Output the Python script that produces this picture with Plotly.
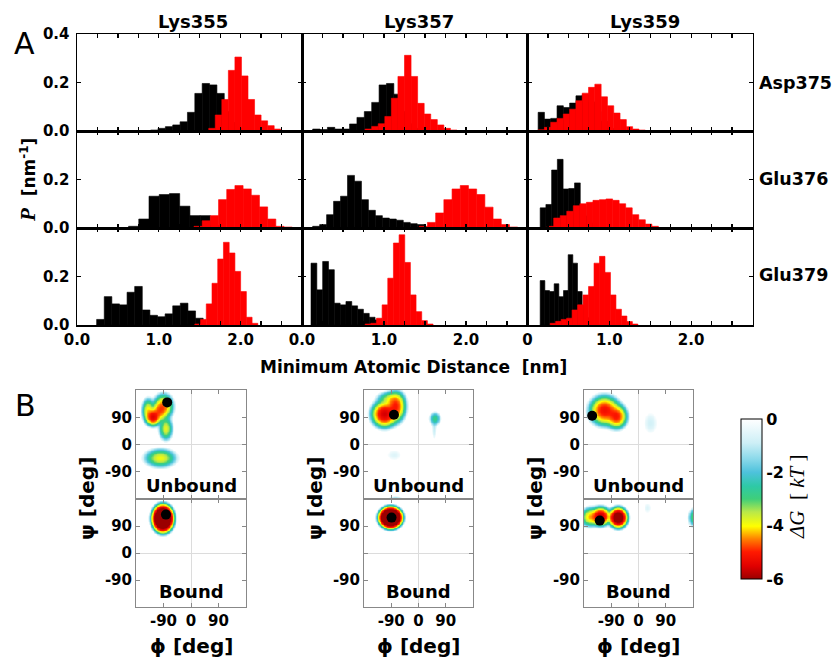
import numpy as np
import plotly.graph_objects as go

# ===================== Panel A : distance histograms =====================
# (left edge of first bin [nm], bin width [nm]) and bar heights P [nm^-1]
# black = unbound, red = bound
BIN_355_375_K = (0.90, 0.09)
P_355_375_K = [0.004, 0.011, 0.018, 0.025, 0.038, 0.077, 0.155, 0.196, 0.19, 0.155, 0.08, 0.035, 0.012, 0.004]
BIN_355_375_R = (1.61, 0.08)
P_355_375_R = [0.011, 0.066, 0.13, 0.25, 0.305, 0.227, 0.13, 0.066, 0.042, 0.022, 0.008]

BIN_357_375_K = (0.13, 0.09)
P_357_375_K = [0.008, 0.006, 0.015, 0.008, 0.008, 0.029, 0.056, 0.08, 0.118, 0.19, 0.196, 0.152, 0.08, 0.03, 0.01]
BIN_357_375_R = (0.77, 0.08)
P_357_375_R = [0.008, 0.019, 0.03, 0.06, 0.135, 0.225, 0.312, 0.225, 0.114, 0.07, 0.047, 0.025, 0.011, 0.004]

BIN_359_375_K = (0.13, 0.077)
P_359_375_K = [0.077, 0.049, 0.052, 0.104, 0.097, 0.115, 0.145, 0.15, 0.12, 0.08, 0.04, 0.01]
BIN_359_375_R = (0.13, 0.077)
P_359_375_R = [0.005, 0.015, 0.036, 0.052, 0.07, 0.09, 0.125, 0.156, 0.18, 0.193, 0.141, 0.104, 0.074, 0.047, 0.018, 0.008, 0.004]

BIN_355_376_K = (0.63, 0.125)
P_355_376_K = [0.007, 0.037, 0.131, 0.138, 0.142, 0.09, 0.051, 0.051, 0.01]
BIN_355_376_R = (1.43, 0.10)
P_355_376_R = [0.007, 0.03, 0.051, 0.117, 0.159, 0.175, 0.161, 0.135, 0.087, 0.037, 0.007, 0.004]

BIN_357_376_K = (0.13, 0.085)
P_357_376_K = [0.007, 0.014, 0.055, 0.11, 0.131, 0.217, 0.193, 0.117, 0.073, 0.051, 0.041, 0.037, 0.032, 0.023, 0.018, 0.014]
BIN_357_376_R = (1.43, 0.10)
P_357_376_R = [0.007, 0.023, 0.062, 0.117, 0.161, 0.175, 0.161, 0.138, 0.086, 0.037, 0.014, 0.004]

BIN_359_376_K = (0.155, 0.07)
P_359_376_K = [0.083, 0.097, 0.239, 0.283, 0.161, 0.163, 0.186, 0.09, 0.05, 0.02]
BIN_359_376_R = (0.24, 0.08)
P_359_376_R = [0.007, 0.041, 0.051, 0.069, 0.092, 0.1, 0.106, 0.114, 0.117, 0.12, 0.114, 0.1, 0.083, 0.055, 0.034, 0.016, 0.007]

BIN_355_379_K = (0.24, 0.093)
P_355_379_K = [0.023, 0.117, 0.087, 0.083, 0.135, 0.159, 0.062, 0.04, 0.034, 0.046, 0.079, 0.09, 0.058, 0.028]
BIN_355_379_R = (1.44, 0.07)
P_355_379_R = [0.004, 0.023, 0.087, 0.172, 0.272, 0.341, 0.297, 0.221, 0.138, 0.032, 0.007]

BIN_357_379_K = (0.11, 0.071)
P_357_379_K = [0.255, 0.145, 0.262, 0.228, 0.09, 0.083, 0.097, 0.079, 0.065, 0.048, 0.032, 0.021, 0.01]
BIN_357_379_R = (0.77, 0.069)
P_357_379_R = [0.004, 0.007, 0.028, 0.083, 0.193, 0.338, 0.372, 0.258, 0.124, 0.055, 0.018, 0.004]

BIN_359_379_K = (0.155, 0.057)
P_359_379_K = [0.183, 0.142, 0.138, 0.17, 0.117, 0.142, 0.29, 0.255, 0.138, 0.08, 0.03]
BIN_359_379_R = (0.277, 0.067)
P_359_379_R = [0.007, 0.015, 0.023, 0.028, 0.062, 0.083, 0.124, 0.159, 0.255, 0.283, 0.217, 0.124, 0.065, 0.037, 0.014, 0.004]

COL_TITLES = ["Lys355", "Lys357", "Lys359"]
ROW_TITLES = ["Asp375", "Glu376", "Glu379"]
X_TICKS_A = [0.0, 0.25, 0.5, 0.75, 1.0, 1.25, 1.5, 1.75, 2.0, 2.25, 2.5, 2.75]
X_LABELS_A = {0.0: "0.0", 1.0: "1.0", 2.0: "2.0"}
Y_TICKS_A = [0.0, 0.2, 0.4]
Y_LABELS_A = ["0.0", "0.2", "0.4"]

HIST = {
    (0, 0): (BIN_355_375_K, P_355_375_K, BIN_355_375_R, P_355_375_R),
    (0, 1): (BIN_357_375_K, P_357_375_K, BIN_357_375_R, P_357_375_R),
    (0, 2): (BIN_359_375_K, P_359_375_K, BIN_359_375_R, P_359_375_R),
    (1, 0): (BIN_355_376_K, P_355_376_K, BIN_355_376_R, P_355_376_R),
    (1, 1): (BIN_357_376_K, P_357_376_K, BIN_357_376_R, P_357_376_R),
    (1, 2): (BIN_359_376_K, P_359_376_K, BIN_359_376_R, P_359_376_R),
    (2, 0): (BIN_355_379_K, P_355_379_K, BIN_355_379_R, P_355_379_R),
    (2, 1): (BIN_357_379_K, P_357_379_K, BIN_357_379_R, P_357_379_R),
    (2, 2): (BIN_359_379_K, P_359_379_K, BIN_359_379_R, P_359_379_R),
}

# ===================== Panel B : Ramachandran free energy =====================
# basins: (phi centre, psi centre, half-extent phi, half-extent psi, depth [kT])
BASINS_355_UNBOUND = [(-124, 90, 34, 38, 5.4), (-90, 125, 42, 54, 4.6), (-82, 52, 28, 48, 3.8),
                      (-105, 108, 34, 44, 4.4), (-100, -45, 64, 38, 3.9), (-140, 112, 26, 50, 4.0)]
BASINS_355_BOUND = [(-92, 115, 48, 62, 8.5)]
BASINS_357_UNBOUND = [(-112, 100, 58, 58, 5.6), (-75, 125, 44, 66, 5.0), (-95, 150, 50, 30, 3.5),
                      (55, 85, 22, 25, 2.8), (52, 50, 7, 34, 1.0), (-80, -35, 22, 16, 0.6)]
BASINS_357_BOUND = [(-92, 118, 52, 48, 9.0)]
BASINS_359_UNBOUND = [(-112, 112, 66, 64, 5.2), (-72, 92, 46, 52, 5.0), (40, 70, 22, 34, 0.8)]
BASINS_359_BOUND = [(-125, 122, 46, 42, 5.8), (-67, 118, 42, 46, 6.8), (-160, 120, 38, 40, 4.2),
                    (178, 110, 12, 22, 1.0), (30, 150, 11, 16, 0.6)]

DOT_PHI_UNBOUND = [-78, -81, -153]
DOT_PSI_UNBOUND = [139, 98, 95]
DOT_PHI_BOUND = [-82, -89, -128]
DOT_PSI_BOUND = [128, 118, 108]

ANGLE_TICKS = [-90, 0, 90]
G_TICKS = [0, -2, -4, -6]

# ------------------------------------------------------------------
W, H = 836, 660
SANS = "DejaVu Sans"
SERIF = "Liberation Serif"


def fx(px):
    return px / W


def fy(py):
    return 1 - py / H


def ax_names(n):
    return ("x" if n == 1 else f"x{n}", "y" if n == 1 else f"y{n}",
            "xaxis" if n == 1 else f"xaxis{n}", "yaxis" if n == 1 else f"yaxis{n}")


fig = go.Figure()
layout_axes = {}
annotations = []

COLS_A = [(77, 302), (302, 527.5), (527.5, 752.5)]
ROWS_A = [(34, 131), (131, 228), (228, 325)]

for (r, c), (bk, vk, br, vr) in HIST.items():
    n = r * 3 + c + 1
    xa, ya, xk, yk = ax_names(n)
    for (x0, w), vals, col in ((bk, vk, "black"), (br, vr, "#ff0000")):
        centers = [x0 + w * (i + 0.5) for i in range(len(vals))]
        fig.add_trace(go.Bar(x=centers, y=vals, width=w,
                             marker=dict(color=col, line=dict(width=0.6, color=col)),
                             xaxis=xa, yaxis=ya, hoverinfo="skip"))
    if r == 2:
        if c == 2:
            labs = ["0" if t == 0 else X_LABELS_A.get(t, "") for t in X_TICKS_A]
        else:
            labs = [X_LABELS_A.get(t, "") for t in X_TICKS_A]
    else:
        labs = ["" for _ in X_TICKS_A]
    layout_axes[xk] = dict(domain=[fx(COLS_A[c][0]), fx(COLS_A[c][1])], range=[0, 2.75], anchor=ya,
                           tickmode="array", tickvals=X_TICKS_A, ticktext=labs, automargin=False,
                           ticks="inside", ticklen=4, tickwidth=1.2, tickcolor="black",
                           showline=True, linecolor="black", linewidth=1.5, mirror="ticks",
                           showgrid=False, zeroline=False,
                           tickfont=dict(family=SANS, size=15, color="black", weight="bold"))
    if c == 0:
        ylabs = Y_LABELS_A if r == 0 else Y_LABELS_A[:2] + [""]
    else:
        ylabs = ["", "", ""]
    layout_axes[yk] = dict(domain=[fy(ROWS_A[r][1]), fy(ROWS_A[r][0])], range=[0, 0.4], anchor=xa,
                           tickmode="array", tickvals=Y_TICKS_A, ticktext=ylabs, automargin=False,
                           ticks="inside", ticklen=4, tickwidth=1.2, tickcolor="black",
                           showline=True, linecolor="black", linewidth=1.5, mirror="ticks",
                           showgrid=False, zeroline=False, ticklabelstandoff=3,
                           tickfont=dict(family=SANS, size=15, color="black", weight="bold"))

# ---- Panel B heatmaps
PHI = np.arange(-178.75, 180, 2.5)
PSI = np.arange(-178.75, 180, 2.5)


def free_energy(basins):
    P = np.zeros((len(PSI), len(PHI)))
    for pc, qc, a, b, d in basins:
        dphi = (PHI[None, :] - pc + 180) % 360 - 180
        dpsi = (PSI[:, None] - qc + 180) % 360 - 180
        rr2 = (dphi / a) ** 2 + (dpsi / b) ** 2
        P += np.exp(d * (1 - rr2))
    G = -np.log(P + 1e-300)
    return [[(float(v) if v < 0 else None) for v in row] for row in G]


CS = [[0.0, "#9b0000"], [0.08, "#e00000"], [0.17, "#ff1a00"], [0.25, "#ff8000"],
      [0.33, "#ffff00"], [0.42, "#b8e84a"], [0.5, "#3fcf7a"], [0.58, "#2ec9a6"],
      [0.667, "#4ec2dc"], [0.75, "#8ad9ea"], [0.85, "#cdeff6"], [1.0, "#ffffff"]]

COLS_B = [(136, 246), (364, 473), (584, 693)]
ROWS_B = [(390, 499), (499, 607)]
BASINS = [[BASINS_355_UNBOUND, BASINS_355_BOUND],
          [BASINS_357_UNBOUND, BASINS_357_BOUND],
          [BASINS_359_UNBOUND, BASINS_359_BOUND]]
DOTS = [[(DOT_PHI_UNBOUND[i], DOT_PSI_UNBOUND[i]), (DOT_PHI_BOUND[i], DOT_PSI_BOUND[i])] for i in range(3)]

n = 10
first = True
for c in range(3):
    for r in range(2):
        xa, ya, xk, yk = ax_names(n)
        z = free_energy(BASINS[c][r])
        hm = dict(x=PHI, y=PSI, z=z, zmin=-6, zmax=0, colorscale=CS, xaxis=xa, yaxis=ya,
                  hoverinfo="skip", showscale=first)
        if first:
            hm["colorbar"] = dict(x=fx(731), xanchor="left", y=fy(499), yanchor="middle",
                                  len=180, lenmode="pixels", thickness=21, thicknessmode="pixels",
                                  outlinecolor="black", outlinewidth=1,
                                  tickmode="array", tickvals=G_TICKS, ticktext=[str(v) for v in G_TICKS],
                                  ticks="", tickfont=dict(family=SANS, size=16, color="black", weight="bold"))
        fig.add_trace(go.Heatmap(**hm))
        first = False
        fig.add_trace(go.Scatter(x=[DOTS[c][r][0]], y=[DOTS[c][r][1]], mode="markers",
                                 marker=dict(color="black", size=10), xaxis=xa, yaxis=ya, hoverinfo="skip"))
        xlabs = [str(t) for t in ANGLE_TICKS] if r == 1 else ["", "", ""]
        if r == 1 and c > 0:
            ylabs = ["-90", "", "90"]
        else:
            ylabs = [str(t) for t in ANGLE_TICKS]
        common = dict(range=[-180, 180], tickmode="array", tickvals=ANGLE_TICKS, automargin=False,
                      ticks="inside", ticklen=4, tickwidth=1, tickcolor="#888",
                      showline=True, linecolor="#888", linewidth=1, mirror="ticks",
                      showgrid=False, zeroline=True, zerolinecolor="#dcdcdc", zerolinewidth=1,
                      tickfont=dict(family=SANS, size=15, color="black", weight="bold"))
        layout_axes[xk] = dict(domain=[fx(COLS_B[c][0]), fx(COLS_B[c][1])], anchor=ya,
                               ticktext=xlabs, **common)
        layout_axes[yk] = dict(domain=[fy(ROWS_B[r][1]), fy(ROWS_B[r][0])], anchor=xa,
                               ticktext=ylabs, **common)
        n += 1


def ann(text, x, y, size, weight="bold", family=SANS, angle=0, xanchor="center"):
    annotations.append(dict(text=text, x=fx(x), y=fy(y), xref="paper", yref="paper",
                            showarrow=False, textangle=angle, xanchor=xanchor, yanchor="middle",
                            font=dict(family=family, size=size, color="black", weight=weight)))


ann("A", 24, 43, 30, weight="normal")
ann("B", 25, 405, 30, weight="normal")
for t, xc in zip(COL_TITLES, [193, 419, 645]):
    ann(t, xc, 21, 18)
for t, yc in zip(ROW_TITLES, [83, 179, 275]):
    ann(t, 757, yc, 17.5, xanchor="left")
ann("<span style=\"font-family:'Liberation Serif';font-style:italic;font-size:21px\">P</span>  [nm<sup>-1</sup>]",
    28, 180, 17, angle=-90)
ann("Minimum Atomic Distance  [nm]", 413, 367, 17)
for c in range(3):
    x0, x1 = COLS_B[c]
    xc = (x0 + x1) / 2
    ann("Unbound", xc, 485, 18)
    ann("Bound", xc, 591, 18)
    ann("ψ [deg]", x0 - 49, 499, 20, angle=-90)
    ann("ϕ [deg]", xc, 646, 20)
ann("<i>ΔG</i>  [ <i>kT</i> ]", 797, 497, 21, weight="normal", family=SERIF, angle=-90)

fig.update_layout(template="none", width=W, height=H,
                  margin=dict(l=0, r=0, t=0, b=0, pad=0, autoexpand=False),
                  paper_bgcolor="white", plot_bgcolor="white", showlegend=False,
                  barmode="overlay", annotations=annotations, **layout_axes)

fig.write_html("out.html", config={"displayModeBar": False, "staticPlot": True},
               post_script="document.body.style.margin='0';document.body.style.padding='0';"
                           "document.body.style.overflow='hidden';")
